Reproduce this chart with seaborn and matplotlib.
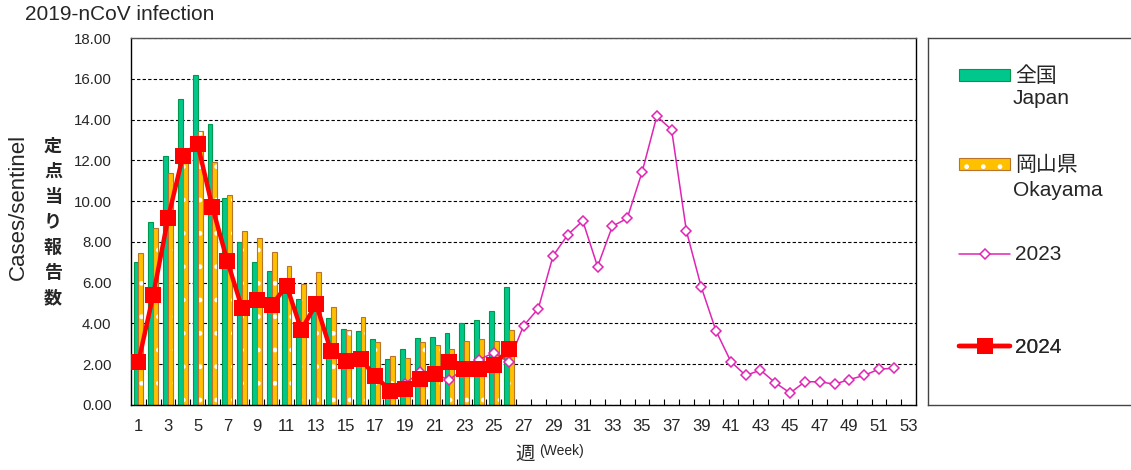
import numpy as np
import pandas as pd
import matplotlib
matplotlib.use("Agg")
import matplotlib.pyplot as plt
import matplotlib.colors as mcolors
import seaborn as sns
from matplotlib.lines import Line2D
from matplotlib.patches import Patch

sns.set_theme(style="white")
plt.rcParams['font.family'] = ['Liberation Sans', 'Noto Sans CJK JP', 'DejaVu Sans']

# ===== datos =====
weeks = list(range(1, 54))
week_labels = [str(w) for w in weeks[::2]]

# barras: 全国 / 岡山県 (semanas 1-26)
japan = [7.0, 9.0, 12.2, 15.0, 16.2, 13.8, 10.15, 8.0, 7.0, 6.56, 5.8, 5.2, 4.7,
         4.25, 3.71, 3.64, 3.22, 2.27, 2.76, 3.3, 3.35, 3.55, 4.0, 4.17, 4.62, 5.8]
okayama = [7.46, 8.7, 11.4, 11.9, 13.45, 11.9, 10.3, 8.54, 8.21, 7.52, 6.8, 5.95, 6.53,
           4.83, 3.68, 4.33, 3.09, 2.4, 2.29, 3.1, 2.92, 2.73, 3.14, 3.25, 3.14, 3.69]

# lineas: 2023 (desde semana 19) y 2024 (semanas 1-26)
line_2023 = [np.nan] * 18 + [1.05, 1.6, 1.5, 1.24, 1.8, 2.23, 2.56, 2.1, 3.88, 4.73,
                             7.32, 8.36, 9.03, 6.79, 8.77, 9.15, 11.41, 14.16, 13.5, 8.53,
                             5.79, 3.63, 2.13, 1.45, 1.71, 1.09, 0.59, 1.14, 1.14, 1.02,
                             1.25, 1.45, 1.76, 1.8, np.nan]
line_2024 = [2.11, 5.39, 9.16, 12.2, 12.8, 9.69, 7.07, 4.74, 5.16, 4.9, 5.85, 3.69, 4.95,
             2.65, 2.16, 2.24, 1.42, 0.69, 0.8, 1.26, 1.5, 2.1, 1.78, 1.75, 1.96, 2.73]

regions = ['全国', '岡山県']
green, green_edge = '#00C88C', '#00984A'
orange, orange_edge = '#FFC000', '#B8742A'
magenta = '#E024B4'

df_bar = pd.DataFrame({
    'week': weeks[:26] * 2,
    'value': japan + okayama,
    'region': [regions[0]] * 26 + [regions[1]] * 26,
})
df_2023 = pd.DataFrame({'pos': np.arange(53), 'value': line_2023}).dropna()
df_2024 = pd.DataFrame({'pos': np.arange(26), 'value': line_2024})

# ===== figura =====
fig = plt.figure(figsize=(11.31, 4.70), dpi=100)
ax = fig.add_axes([131 / 1131, 1 - 405 / 470, 785 / 1131, 367 / 470])

sns.barplot(data=df_bar, x='week', y='value', hue='region', order=weeks, hue_order=regions,
            palette=[green, orange], width=0.66, saturation=1, linewidth=0.8,
            legend=False, ax=ax, zorder=2)
for p in ax.containers[0]:
    p.set_edgecolor(green_edge)
for p in ax.containers[1]:
    p.set_edgecolor(orange_edge)
    p.set_hatch('.')
    p._hatch_color = mcolors.to_rgba('white')

sns.lineplot(data=df_2023, x='pos', y='value', color=magenta, linewidth=1.1, marker='D',
             markersize=5.5, markerfacecolor='white', markeredgecolor=magenta,
             markeredgewidth=1.1, ax=ax, zorder=3)
sns.lineplot(data=df_2024, x='pos', y='value', color='#FF0000', linewidth=3.2, marker='s',
             markersize=11, markeredgewidth=0, ax=ax, zorder=4)

ax.set_xlim(-0.5, 52.5)
ax.set_ylim(0, 18)
ax.set_yticks(np.arange(0, 19, 2))
ax.yaxis.set_major_formatter('{x:.2f}')
ax.set_xticks(range(0, 53, 2))
ax.set_xticklabels(week_labels, family=['Liberation Sans Narrow', 'Liberation Sans'], fontsize=12)
ax.set_xticks(np.arange(0.5, 52, 1), minor=True)
ax.tick_params(axis='x', which='major', length=0, pad=10)
ax.tick_params(axis='x', which='minor', direction='in', length=4, width=0.8, color='black', bottom=True)
ax.tick_params(axis='y', length=0, pad=14, labelsize=10.8)
ax.set_xlabel('')
ax.set_ylabel('')
ax.grid(axis='y', color='black', linestyle=(0, (3, 2)), linewidth=0.8)
ax.set_axisbelow(True)
for s in ax.spines.values():
    s.set_color('black')
    s.set_linewidth(1)
ax.spines['top'].set_linestyle((0, (2, 1)))
ax.spines['top'].set_color('#555555')

# titulos y etiquetas
fig.text(25 / 1131, 1 - 14 / 470, '2019-nCoV infection', ha='left', va='center', fontsize=15)
fig.text(18 / 1131, 1 - 207 / 470, 'Cases/sentinel', rotation=90, ha='center', va='center', fontsize=16)
fig.text(53 / 1131, 1 - 222 / 470, '定\n点\n当\nり\n報\n告\n数', ha='center', va='center',
         fontsize=13, linespacing=1.42, weight='bold', family=['Noto Sans CJK JP', 'DejaVu Sans'])
fig.text(525 / 1131, 1 - 454 / 470, '週', ha='center', va='center', fontsize=14,
         family=['Noto Sans CJK JP', 'DejaVu Sans'])
fig.text(539 / 1131, 1 - 451 / 470, '(Week)', ha='left', va='center', fontsize=10,
         family=['Liberation Sans Narrow', 'Liberation Sans'])

# leyenda en caja aparte
lax = fig.add_axes([928 / 1131, 1 - 405 / 470, 210 / 1131, 367 / 470])
lax.set_xticks([])
lax.set_yticks([])
for s in lax.spines.values():
    s.set_color('#444444')
    s.set_linewidth(1)

h_japan = Patch(facecolor=green, edgecolor=green_edge, linewidth=0.8)
h_oka = Patch(facecolor=orange, edgecolor=orange_edge, linewidth=0.8, hatch='.')
h_oka._hatch_color = mcolors.to_rgba('white')
h_2023 = Line2D([], [], color=magenta, linewidth=1.1, marker='D', markersize=5.5,
                markerfacecolor='white', markeredgecolor=magenta, markeredgewidth=1.1)
h_2024 = Line2D([], [], color='#FF0000', linewidth=3.2, marker='s', markersize=11, markeredgewidth=0)

entries = [(h_japan, '全国', 0.895), (h_oka, '岡山県', 0.652), (h_2023, '2023', 0.409), (h_2024, '2024', 0.158)]
for h, lab, yy in entries:
    leg = lax.legend(handles=[h], labels=[lab], loc='center left', bbox_to_anchor=(0.098, yy),
                     frameon=False, borderpad=0, handlelength=2.45, handleheight=0.5,
                     handletextpad=0.25, numpoints=1,
                     prop={'size': 15, 'family': ['Liberation Sans', 'Noto Sans CJK JP']})
    lax.add_artist(leg)
lax.text(0.405, 0.835, 'Japan', ha='left', va='center', fontsize=15)
lax.text(0.405, 0.585, 'Okayama', ha='left', va='center', fontsize=15)

fig.savefig('out.png', dpi=100)
